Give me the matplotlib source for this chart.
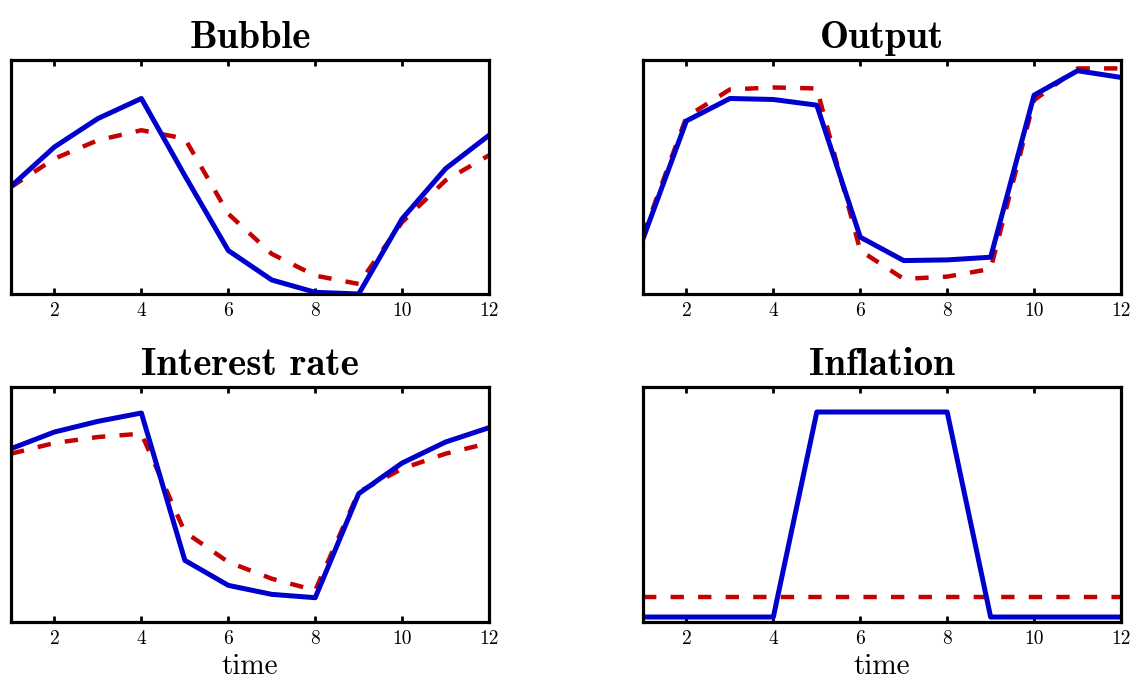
"""Impulse responses: bubble, output, interest rate and inflation over time."""

import matplotlib.pyplot as plt

time = [1, 2, 3, 4, 5, 6, 7, 8, 9, 10, 11, 12]
xticks = [2, 4, 6, 8, 10, 12]

bubble_blue = [32.2, 44.0, 52.5, 58.5, 35.4, 13.0, 4.2, 0.5, 0.0, 22.5, 37.5, 47.5]
bubble_red = [32.0, 40.5, 46.0, 49.0, 46.5, 24.0, 12.0, 5.5, 3.0, 21.5, 34.0, 41.5]

output_blue = [16.5, 51.8, 58.5, 58.2, 56.5, 17.0, 10.0, 10.2, 11.0, 59.5, 66.8, 64.8]
output_red = [17.5, 53.0, 61.2, 61.8, 61.5, 13.0, 4.5, 5.2, 7.5, 58.0, 67.5, 67.5]

rate_blue = [52.0, 57.0, 60.2, 62.7, 18.5, 11.0, 8.3, 7.3, 38.5, 47.7, 54.0, 58.3]
rate_red = [50.5, 53.7, 55.5, 56.5, 27.0, 18.0, 13.0, 9.5, 39.0, 46.0, 50.5, 53.7]

infl_blue = [1.5, 1.5, 1.5, 1.5, 63.0, 63.0, 63.0, 63.0, 1.5, 1.5, 1.5, 1.5]
infl_red = [7.5, 7.5, 7.5, 7.5, 7.5, 7.5, 7.5, 7.5, 7.5, 7.5, 7.5, 7.5]

BLUE = "#0000cc"
RED = "#c40000"


def draw_panel(ax, title, blue, red, ylim, xlabel=None):
    ax.plot(time, red, color=RED, linewidth=3.2, dashes=(3, 3.2))
    ax.plot(time, blue, color=BLUE, linewidth=3.6)
    ax.set_xlim(1, 12)
    ax.set_ylim(*ylim)
    ax.set_xticks(xticks)
    ax.set_xticklabels([str(t) for t in xticks], fontfamily="cmr10", fontsize=14)
    ax.set_yticks([])
    ax.tick_params(axis="x", direction="in", length=4, width=2,
                   top=True, bottom=True, pad=6)
    for side in ax.spines.values():
        side.set_linewidth(2.3)
    ax.set_title(title, fontfamily="cmb10", fontsize=28, pad=9)
    if xlabel:
        ax.set_xlabel(xlabel, fontfamily="cmr10", fontsize=21, labelpad=4)


def main():
    fig = plt.figure(figsize=(11.36, 6.84), dpi=100)
    ax_bub = fig.add_axes([0.0097, 0.5702, 0.4208, 0.342])
    ax_out = fig.add_axes([0.566, 0.5702, 0.4208, 0.342])
    ax_rate = fig.add_axes([0.0097, 0.0906, 0.4208, 0.3436])
    ax_inf = fig.add_axes([0.566, 0.0906, 0.4208, 0.3436])

    draw_panel(ax_bub, "Bubble", bubble_blue, bubble_red, (0, 70))
    draw_panel(ax_out, "Output", output_blue, output_red, (0, 70))
    draw_panel(ax_rate, "Interest rate", rate_blue, rate_red, (0, 70.5), "time")
    draw_panel(ax_inf, "Inflation", infl_blue, infl_red, (0, 70.5), "time")

    fig.savefig("out.png", dpi=100)
    plt.close(fig)


if __name__ == "__main__":
    main()
